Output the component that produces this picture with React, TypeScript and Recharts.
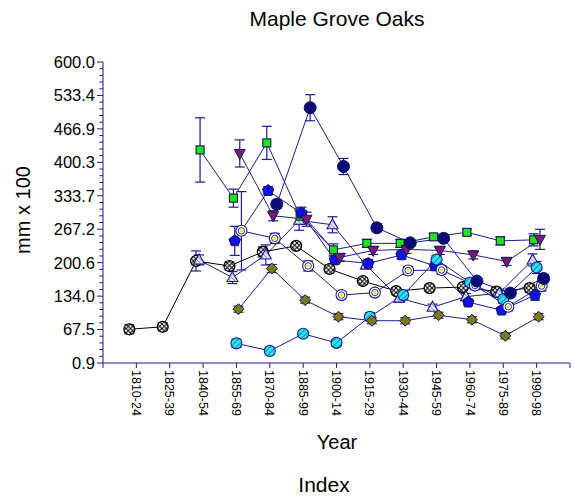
import React from 'react';
import { LineChart, Line, XAxis, YAxis, ErrorBar, ReferenceLine } from 'recharts';

const NAVY = '#1b1b8f';
const FONT = '"Liberation Sans", Arial, sans-serif';

const years = [
  '1810-24', '1825-39', '1840-54', '1855-69', '1870-84', '1885-99', '1900-14',
  '1915-29', '1930-44', '1945-59', '1960-74', '1975-89', '1990-98',
];

const yTicks = [0.9, 67.5, 134.0, 200.6, 267.2, 333.7, 400.3, 466.9, 533.4, 600.0];

// means and error half-widths per period (null = no sample)
const hatchedMean = [68, 73, 204, 194, 222, 234, 188, 164, 144, 150, 152, 143, 150];
const hatchedErr = [9, 8, 20, 8, 10, 6, 8, 6, 6, 6, 6, 8, 8];

const upTriMean = [null, null, 206, 171, 216, 285, 276, 196, 130, 112, 133, 140, 206];
const upTriErr = [null, null, 10, 12, 20, 20, 16, 8, 8, 6, 6, 8, 12];

const squareMean = [null, null, 425, 329, 439, 293, 226, 239, 239, 252, 261, 244, 246];
const squareErr = [null, null, 64, 18, 33, 16, 12, 8, 8, 6, 6, 8, 12];

const pentMean = [null, null, null, 244, 344, 299, 206, 199, 216, 194, 122, 106, 136];
const pentErr = [null, null, null, 29, 8, 12, 8, 8, 8, 8, 6, 6, 10];

const cyanMean = [null, null, null, 40, 25, 59, 41, 93, 136, 207, 161, 128, 191];
const cyanErr = [null, null, null, 8, 6, 6, 6, 8, 8, 8, 8, 8, 12];

const diamondMean = [null, null, null, 108, 189, 126, 93, 85, 85, 96, 87, 55, 93];
const diamondErr = [null, null, null, 6, 8, 6, 6, 6, 6, 6, 6, 6, 6];

const targetMean = [null, null, null, 264, 249, 194, 136, 141, 185, 186, 155, 113, 154];
const targetErr = [null, null, null, 78, 10, 10, 6, 6, 8, 8, 8, 8, 10];

const downTriMean = [null, null, null, 418, 294, 287, 211, 225, 227, 225, 216, 203, 247];
const downTriErr = [null, null, null, 27, 10, 14, 8, 8, 8, 8, 8, 8, 20];

const navyMean = [null, null, null, null, 317, 509, 392, 270, 240, 249, 164, 140, 169];
const navyErr = [null, null, null, null, 8, 26, 16, 8, 6, 6, 6, 8, 8];

type Kind = 'hatched' | 'upTri' | 'square' | 'pent' | 'cyan' | 'diamond' | 'target' | 'downTri' | 'navy';

interface Series {
  kind: Kind;
  mean: (number | null)[];
  err: (number | null)[];
  shift: number; // small horizontal nudge so markers don't sit on top of each other
  line: string;
}

const series: Series[] = [
  { kind: 'hatched', mean: hatchedMean, err: hatchedErr, shift: -0.21, line: '#000' },
  { kind: 'upTri', mean: upTriMean, err: upTriErr, shift: -0.12, line: NAVY },
  { kind: 'square', mean: squareMean, err: squareErr, shift: -0.09, line: NAVY },
  { kind: 'pent', mean: pentMean, err: pentErr, shift: -0.05, line: NAVY },
  { kind: 'cyan', mean: cyanMean, err: cyanErr, shift: 0, line: NAVY },
  { kind: 'diamond', mean: diamondMean, err: diamondErr, shift: 0.06, line: NAVY },
  { kind: 'target', mean: targetMean, err: targetErr, shift: 0.15, line: NAVY },
  { kind: 'downTri', mean: downTriMean, err: downTriErr, shift: 0.1, line: NAVY },
  { kind: 'navy', mean: navyMean, err: navyErr, shift: 0.21, line: NAVY },
];

const toData = (s: Series) =>
  s.mean
    .map((v, i) => ({ x: i + 1 + s.shift, y: v, e: s.err[i] }))
    .filter((d) => d.y != null);

// 4 minor ticks between each pair of labelled ticks
const minorTicks: number[] = [];
for (let i = 0; i < yTicks.length - 1; i++) {
  const step = (yTicks[i + 1] - yTicks[i]) / 5;
  for (let k = 1; k < 5; k++) minorTicks.push(yTicks[i] + step * k);
}

const poly = (pts: number[][]) => pts.map((p) => p.join(',')).join(' ');

function Marker({ kind, cx, cy }: { kind: Kind; cx: number; cy: number }) {
  const edge = '#16164a';
  switch (kind) {
    case 'hatched':
      return <circle cx={cx} cy={cy} r={5.5} fill="url(#hatchX)" stroke="#000" strokeWidth={1.2} />;
    case 'upTri':
      return (
        <polygon
          points={poly([[cx, cy - 6], [cx + 5.5, cy + 4], [cx - 5.5, cy + 4]])}
          fill="url(#hatchT)"
          stroke={NAVY}
          strokeWidth={1.1}
        />
      );
    case 'square':
      return <rect x={cx - 4} y={cy - 4} width={8} height={8} fill="#1ee61e" stroke={edge} strokeWidth={1.1} />;
    case 'pent': {
      const pts = [0, 1, 2, 3, 4].map((k) => {
        const a = ((-90 + 72 * k) * Math.PI) / 180;
        return [cx + 6 * Math.cos(a), cy + 6 * Math.sin(a)];
      });
      return <polygon points={poly(pts)} fill="#1010e8" stroke={edge} strokeWidth={1} />;
    }
    case 'cyan':
      return <circle cx={cx} cy={cy} r={5.5} fill="url(#hatchC)" stroke={NAVY} strokeWidth={1.1} />;
    case 'diamond':
      return (
        <polygon
          points={poly([[cx, cy - 5.5], [cx + 5.5, cy], [cx, cy + 5.5], [cx - 5.5, cy]])}
          fill="#7d7a15"
          stroke={edge}
          strokeWidth={1}
        />
      );
    case 'target':
      return (
        <g>
          <circle cx={cx} cy={cy} r={5.5} fill="#fff" stroke={NAVY} strokeWidth={1.1} />
          <circle cx={cx} cy={cy} r={3.2} fill="#fff" stroke={NAVY} strokeWidth={0.9} />
          <circle cx={cx} cy={cy} r={1.5} fill="#e8e800" />
        </g>
      );
    case 'downTri':
      return (
        <polygon
          points={poly([[cx - 5.5, cy - 4], [cx + 5.5, cy - 4], [cx, cy + 6]])}
          fill="#7a1a7a"
          stroke={edge}
          strokeWidth={1}
        />
      );
    case 'navy':
      return <circle cx={cx} cy={cy} r={6} fill="#0b0b78" stroke="#0b0b60" strokeWidth={1} />;
  }
  return null;
}

function XTick({ x, y, payload }: any) {
  const label = years[payload.value - 1];
  if (!label) return <g />;
  return (
    <text
      transform={`translate(${x},${y}) rotate(90)`}
      dy="0.35em"
      fontSize={12.5}
      fontFamily={FONT}
      fill="#000"
      textAnchor="start"
    >
      {label}
    </text>
  );
}

export default function App() {
  return (
    <div style={{ position: 'absolute', left: 0, top: 0, width: 574, height: 502, background: '#fff' }}>
      <svg width={0} height={0} style={{ position: 'absolute' }}>
        <defs>
          <pattern id="hatchX" width={4.5} height={4.5} patternUnits="userSpaceOnUse">
            <rect width={4.5} height={4.5} fill="#fff" />
            <path d="M0,0 L4.5,4.5 M4.5,0 L0,4.5" stroke="#000" strokeWidth={1} />
          </pattern>
          <pattern id="hatchC" width={4} height={4} patternUnits="userSpaceOnUse" patternTransform="rotate(45)">
            <rect width={4} height={4} fill="#22e8f0" />
            <line x1={0} y1={0} x2={0} y2={4} stroke={NAVY} strokeWidth={1} />
          </pattern>
          <pattern id="hatchT" width={3} height={3} patternUnits="userSpaceOnUse" patternTransform="rotate(-45)">
            <rect width={3} height={3} fill="#e8ecff" />
            <line x1={0} y1={0} x2={0} y2={3} stroke={NAVY} strokeWidth={0.8} />
          </pattern>
        </defs>
      </svg>
      <LineChart width={574} height={502} margin={{ top: 62, right: 4, bottom: 79, left: 0 }}>
        <XAxis
          type="number"
          dataKey="x"
          domain={[0, 14]}
          ticks={[0, 1, 2, 3, 4, 5, 6, 7, 8, 9, 10, 11, 12, 13, 14]}
          interval={0}
          height={60}
          tickSize={5}
          stroke={NAVY}
          tick={<XTick />}
        />
        <YAxis
          type="number"
          domain={[0.9, 600]}
          ticks={yTicks}
          interval={0}
          width={103}
          tickSize={6}
          tickMargin={2}
          stroke={NAVY}
          tickFormatter={(v: number) => v.toFixed(1)}
          tick={{ fill: '#000', fontSize: 16.5, fontFamily: FONT }}
        />
        {minorTicks.map((v) => (
          <ReferenceLine
            key={`minor-${v}`}
            segment={[
              { x: -0.11, y: v },
              { x: 0, y: v },
            ]}
            stroke={NAVY}
            strokeWidth={1}
            ifOverflow="visible"
          />
        ))}
        {series.map((s) => (
          <Line
            key={s.kind}
            data={toData(s)}
            dataKey="y"
            stroke={s.line}
            strokeWidth={1}
            isAnimationActive={false}
            activeDot={false}
            dot={(p: any) =>
              p.cx == null || p.cy == null ? (
                <g key={`${s.kind}-${p.index}`} />
              ) : (
                <Marker key={`${s.kind}-${p.index}`} kind={s.kind} cx={p.cx} cy={p.cy} />
              )
            }
          >
            <ErrorBar dataKey="e" direction="y" width={5} stroke={NAVY} strokeWidth={1.2} />
          </Line>
        ))}
      </LineChart>
      <svg
        width={574}
        height={502}
        style={{ position: 'absolute', left: 0, top: 0, pointerEvents: 'none' }}
        fontFamily={FONT}
      >
        <text x={337} y={26} textAnchor="middle" fontSize={21} fill="#000">
          Maple Grove Oaks
        </text>
        <text x={337} y={449} textAnchor="middle" fontSize={20} fill="#000">
          Year
        </text>
        <text x={324} y={492} textAnchor="middle" fontSize={21} fill="#000">
          Index
        </text>
        <text transform="translate(30,210) rotate(-90)" textAnchor="middle" fontSize={20} fill="#000">
          mm x 100
        </text>
      </svg>
    </div>
  );
}
